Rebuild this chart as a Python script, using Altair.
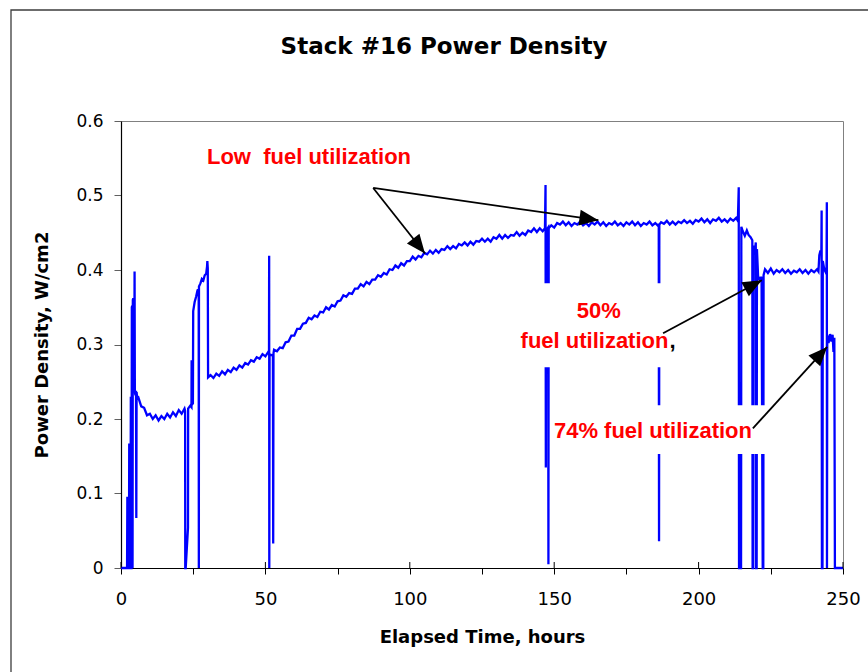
import math

import altair as alt
import pandas as pd

# ---------------------------------------------------------------------------
# Stack #16 power density trace, elapsed hours vs W/cm2, split into segments
# ---------------------------------------------------------------------------
startup_h = [0, 2.1, 2.2, 2.35, 2.45, 2.75, 2.85, 2.95, 3.3, 3.4, 3.5, 3.65, 3.75,
             3.9, 4.0, 4.1, 4.25, 4.35, 4.6, 4.7, 4.8, 5.0, 5.2, 5.3, 5.4, 5.6]
startup_w = [0, 0, 0.094, 0.094, 0, 0, 0.167, 0, 0, 0.23, 0, 0, 0.35,
             0.352, 0, 0.36, 0.362, 0.24, 0.235, 0.398, 0.236, 0.232, 0.238, 0.067, 0.236, 0.228]

first_h = [6, 7, 8, 9, 10, 11, 12, 13, 14, 15, 16, 17, 18, 19, 20, 21, 22,
           22.2, 22.25, 22.4, 23.2, 23.25, 24, 24.4, 24.45, 24.5, 24.9,
           25.0, 25.5, 26, 26.5, 26.9, 26.95, 27.0, 27.5, 28, 28.5, 29, 29.5,
           29.8, 29.9, 30.05, 30.15]
first_w = [0.229, 0.217, 0.215, 0.205, 0.207, 0.200, 0.205, 0.198, 0.204, 0.200,
           0.207, 0.202, 0.209, 0.204, 0.212, 0.207, 0.214,
           0.211, 0, 0, 0.054, 0.214, 0.218, 0.216, 0.279, 0.219, 0.221,
           0.345, 0.357, 0.364, 0.373, 0.374, 0, 0.378, 0.382, 0.388, 0.386, 0.393, 0.395,
           0.405, 0.412, 0.402, 0.256]

second_h = [31, 32, 33, 34, 35, 36, 37, 38, 39, 40, 41, 42, 43, 44, 45, 46, 47,
            48, 49, 50, 51, 51.25, 51.3, 51.35, 51.45, 52, 52.6, 52.7, 52.8]
second_w = [0.259, 0.255, 0.261, 0.258, 0.264, 0.260, 0.266, 0.263, 0.269, 0.266,
            0.272, 0.269, 0.275, 0.273, 0.279, 0.277, 0.283, 0.281, 0.287, 0.284,
            0.290, 0.289, 0.419, 0, 0.287, 0.286, 0.285, 0.033, 0.288]

rise_h = list(range(53, 147)) + [146.8, 147.0, 147.1, 147.2, 147.9, 148.0, 148.1]
rise_w = [0.293, 0.291, 0.296, 0.295, 0.303, 0.304, 0.312, 0.312, 0.321, 0.321,
          0.328, 0.329, 0.336, 0.334, 0.339, 0.337, 0.344, 0.343, 0.350, 0.347,
          0.353, 0.351, 0.358, 0.359, 0.366, 0.364, 0.369, 0.368, 0.375, 0.375,
          0.381, 0.378, 0.384, 0.381, 0.387, 0.387, 0.393, 0.391, 0.396, 0.394,
          0.401, 0.400, 0.406, 0.403, 0.409, 0.406, 0.412, 0.412, 0.418, 0.414,
          0.419, 0.417, 0.423, 0.421, 0.426, 0.422, 0.427, 0.423, 0.428, 0.427,
          0.432, 0.428, 0.432, 0.429, 0.435, 0.433, 0.437, 0.433, 0.438, 0.434,
          0.439, 0.438, 0.442, 0.438, 0.442, 0.438, 0.444, 0.442, 0.447, 0.442,
          0.447, 0.443, 0.447, 0.446, 0.451, 0.446, 0.450, 0.447, 0.453, 0.451,
          0.456, 0.451, 0.456, 0.452,
          0.456, 0.514, 0.135, 0.453, 0.457, 0.005, 0.456]

plateau_h = list(range(149, 187)) + [186.2, 186.3, 186.4] + list(range(187, 214)) + \
    [213.6, 213.9, 214.0, 214.7, 214.8]
plateau_w = [0.460, 0.457, 0.463, 0.461, 0.465, 0.460, 0.464, 0.459, 0.463, 0.461,
             0.465, 0.460, 0.463, 0.459, 0.464, 0.461, 0.465, 0.460, 0.464, 0.459,
             0.463, 0.461, 0.465, 0.460, 0.463, 0.459, 0.464, 0.461, 0.465, 0.460,
             0.464, 0.459, 0.463, 0.461, 0.465, 0.460, 0.463, 0.459,
             0.462, 0.036, 0.461,
             0.464, 0.462, 0.466, 0.461, 0.465, 0.461, 0.465, 0.463, 0.467, 0.463,
             0.466, 0.462, 0.467, 0.465, 0.469, 0.464, 0.468, 0.463, 0.468, 0.466,
             0.470, 0.465, 0.468, 0.464, 0.469, 0.466, 0.470,
             0.466, 0.511, 0, 0, 0.458]

late_h = [215.3, 216, 216.7, 217.3, 218, 218.6, 218.7, 218.9, 219.0, 219.5, 219.8,
          219.9, 220.1, 220.2, 220.6, 221.2, 221.8, 222.2, 222.4, 222.5,
          223, 224, 225, 226, 227, 228, 229, 230, 231, 232, 233, 234, 235, 236,
          237, 238, 239, 240, 241, 241.5, 241.8, 242.2, 242.5, 242.6, 242.7,
          242.9, 243.0, 243.5, 244.0, 244.3, 244.4, 244.45, 244.55, 245, 245.5,
          246, 246.4, 246.7, 247.0, 247.2, 250]
late_w = [0.452, 0.446, 0.453, 0.447, 0.444, 0.440, 0, 0, 0.433, 0.425, 0.437,
          0, 0, 0.428, 0.392, 0.386, 0.391, 0, 0, 0.393,
          0.401, 0.396, 0.402, 0.395, 0.400, 0.397, 0.401, 0.396, 0.400, 0.395,
          0.399, 0.397, 0.401, 0.396, 0.400, 0.395, 0.400, 0.397, 0.401, 0.398,
          0.420, 0.426, 0.421, 0.480, 0, 0, 0.412, 0.401, 0.397, 0.404, 0.491, 0,
          0.312, 0.302, 0.314, 0.304, 0.313, 0.290, 0.309, 0, 0]

# axis ticks
y_ticks = [0, 0.1, 0.2, 0.3, 0.4, 0.5, 0.6]
x_ticks = [0, 25, 50, 75, 100, 125, 150, 175, 200, 225, 250]
x_major = [0, 50, 100, 150, 200, 250]

# annotation texts (hours, W/cm2 at text anchor)
note_text = ["Low\u00a0 fuel utilization", "50%", "74% fuel utilization"]
note_h = [65.1, 165.4, 184.2]
note_w = [0.5429, 0.335, 0.174]
note2_text = ["fuel utilization"]
note2_h = [189.56]
note2_w = [0.2955]

# white boxes behind the lower annotations
box_h0 = [136.4, 148.9]
box_h1 = [197.1, 224.8]
box_w0 = [0.2696, 0.1529]
box_w1 = [0.3823, 0.2186]

# arrows: from label to trace
arrow_from_h = [87.33, 87.33, 187.7, 218.8]
arrow_from_w = [0.5101, 0.5101, 0.3152, 0.1874]
arrow_to_h = [105.25, 165.3, 221.9, 244.5]
arrow_to_w = [0.4221, 0.4668, 0.3863, 0.2968]

# ---------------------------------------------------------------------------
W, H = 722, 447
X_MAX, Y_MAX = 250, 0.6
SANS = "DejaVu Sans"
ARIAL = "Liberation Sans"
RED = "#FF0000"

hours = startup_h + first_h + second_h + rise_h + plateau_h + late_h
power = startup_w + first_w + second_w + rise_w + plateau_w + late_w
trace = pd.DataFrame({"hours": hours, "pd": power, "seq": range(len(hours))})

x_scale = alt.Scale(domain=[0, X_MAX], nice=False, zero=False)
y_scale = alt.Scale(domain=[0, Y_MAX], nice=False, zero=False)

x_axis = alt.Axis(
    values=x_ticks, title="Elapsed Time, hours",
    labelExpr="datum.value % 50 == 0 ? datum.label : ''",
    labelFont=SANS, labelFontSize=18, labelColor="black", labelPadding=16,
    labelFlush=False, labelOverlap=False,
    tickSize=6, tickColor="black", tickWidth=1,
    domainColor="black", domainWidth=1.2, grid=False,
    titleFont=SANS, titleFontSize=18, titleFontWeight="bold",
    titleColor="black", titlePadding=20,
)
y_axis = alt.Axis(
    values=y_ticks, title="Power Density, W/cm2", format="~g",
    labelFont=SANS, labelFontSize=17, labelColor="black", labelPadding=11,
    labelFlush=False, labelOverlap=False,
    tickSize=7, tickColor="#606060", tickWidth=1,
    domainColor="black", domainWidth=1.2, grid=False,
    titleFont=SANS, titleFontSize=18, titleFontWeight="bold",
    titleColor="black", titlePadding=24,
)

line = alt.Chart(trace).mark_line(color="#0000FF", strokeWidth=2.3, interpolate="linear").encode(
    x=alt.X("hours:Q", scale=x_scale, axis=x_axis),
    y=alt.Y("pd:Q", scale=y_scale, axis=y_axis),
    order="seq:Q",
)

# major x ticks also cross into the plot
inner_ticks = alt.Chart(pd.DataFrame({"t": x_major})).mark_rule(color="black", strokeWidth=1).encode(
    x=alt.X("t:Q", scale=x_scale),
    y=alt.value(H - 6),
    y2=alt.value(H),
)

boxes = alt.Chart(pd.DataFrame({"h0": box_h0, "h1": box_h1, "w0": box_w0, "w1": box_w1})).mark_rect(
    color="white").encode(
    x=alt.X("h0:Q", scale=x_scale), x2="h1:Q",
    y=alt.Y("w0:Q", scale=y_scale), y2="w1:Q",
)

notes = alt.Chart(pd.DataFrame({"t": note_text, "h": note_h, "w": note_w})).mark_text(
    font=ARIAL, fontSize=22, fontWeight="bold", color=RED, align="center", baseline="alphabetic"
).encode(x=alt.X("h:Q", scale=x_scale), y=alt.Y("w:Q", scale=y_scale), text="t:N")

notes_right = alt.Chart(pd.DataFrame({"t": note2_text, "h": note2_h, "w": note2_w})).mark_text(
    font=ARIAL, fontSize=22, fontWeight="bold", color=RED, align="right", baseline="alphabetic"
).encode(x=alt.X("h:Q", scale=x_scale), y=alt.Y("w:Q", scale=y_scale), text="t:N")

comma = alt.Chart(pd.DataFrame({"t": [","], "h": note2_h, "w": note2_w})).mark_text(
    font=ARIAL, fontSize=22, fontWeight="bold", color="black", align="left", baseline="alphabetic", dx=1
).encode(x=alt.X("h:Q", scale=x_scale), y=alt.Y("w:Q", scale=y_scale), text="t:N")

# arrows
arrows = pd.DataFrame({"h0": arrow_from_h, "w0": arrow_from_w, "h1": arrow_to_h, "w1": arrow_to_w})
px_h, px_w = W / X_MAX, H / Y_MAX
arrows["angle"] = [
    math.degrees(math.atan2((b - a) * px_h, (d - c) * px_w)) % 360
    for a, b, c, d in zip(arrows.h0, arrows.h1, arrows.w0, arrows.w1)
]

shafts = alt.Chart(arrows).mark_rule(color="black", strokeWidth=1.8).encode(
    x=alt.X("h0:Q", scale=x_scale), y=alt.Y("w0:Q", scale=y_scale),
    x2="h1:Q", y2="w1:Q",
)
heads = alt.Chart(arrows).mark_point(
    shape="M0,0L-0.42,1L0.42,1Z", filled=True, size=1444, color="black", opacity=1, strokeWidth=0
).encode(
    x=alt.X("h1:Q", scale=x_scale), y=alt.Y("w1:Q", scale=y_scale),
    angle=alt.Angle("angle:Q", scale=None),
)

one = pd.DataFrame({"k": [0]})
frame = alt.Chart(one).mark_rect(fillOpacity=0, stroke="#3c3c3c", strokeWidth=1.3).encode(
    x=alt.value(-110), x2=alt.value(800), y=alt.value(-111), y2=alt.value(620),
)
title = alt.Chart(one).mark_text(
    text="Stack #16 Power Density", font=SANS, fontSize=23, fontWeight="bold",
    color="black", align="center", baseline="alphabetic",
).encode(x=alt.value(323), y=alt.value(-67.5))

chart = alt.layer(
    line, inner_ticks, boxes, notes, notes_right, comma, shafts, heads, frame, title
).properties(
    width=W, height=H,
    autosize=alt.AutoSizeParams(type="none"),
    padding={"left": 121, "top": 121, "right": 25, "bottom": 104},
    background="white",
).configure_view(stroke="#808080", strokeWidth=1)

chart.save("out.html", embed_options={"renderer": "svg", "actions": False})
